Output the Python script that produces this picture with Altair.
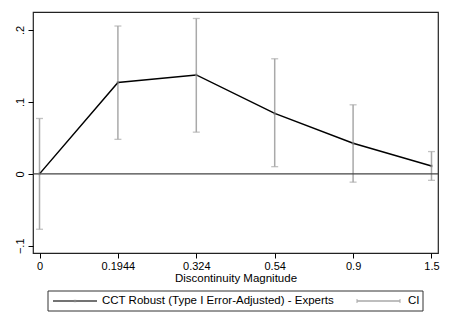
import altair as alt
import pandas as pd

magnitudes = ["0", "0.1944", "0.324", "0.54", "0.9", "1.5"]
estimates = [0.0, 0.127, 0.1375, 0.084, 0.0425, 0.011]
ci_low = [-0.077, 0.048, 0.058, 0.010, -0.0115, -0.009]
ci_high = [0.077, 0.2055, 0.216, 0.160, 0.096, 0.031]
y_ticks = [-0.1, 0.0, 0.1, 0.2]

df = pd.DataFrame({"m": magnitudes, "est": estimates, "lo": ci_low, "hi": ci_high})

W, H = 405, 241
FONT = "Liberation Sans"

xscale = alt.Scale(type="point", padding=0.083)
xenc = alt.X("m:N", sort=None, title="Discontinuity Magnitude", scale=xscale,
             axis=alt.Axis(labelAngle=0, domain=False, grid=False, tickSize=5,
                           tickColor="black", labelFont=FONT, labelFontSize=11,
                           labelColor="black", titleFont=FONT, titleFontSize=11.5,
                           titleFontWeight="normal", titleColor="black",
                           labelPadding=2, titlePadding=1))
yscale = alt.Scale(domain=[-0.11, 0.225], nice=False, zero=False)
yaxis = alt.Axis(values=y_ticks, grid=False, domain=False, tickSize=5, tickColor="black",
                 labelExpr="datum.value == 0 ? '0' : replace(format(datum.value, '.1f'), '0.', '.')",
                 labelAngle=-90, labelAlign="center", labelBaseline="bottom",
                 labelFont=FONT, labelFontSize=11, labelColor="black", labelPadding=3,
                 title=None)

base = alt.Chart(df)

ci_rule = base.mark_rule(color="#a9a9a9", strokeWidth=1.5).encode(
    x=xenc, y=alt.Y("lo:Q", scale=yscale, axis=yaxis), y2="hi:Q")
ci_lo_tick = base.mark_tick(color="#a9a9a9", size=7, thickness=1.3, orient="horizontal").encode(
    x=alt.X("m:N", sort=None, scale=xscale), y=alt.Y("lo:Q"))
ci_hi_tick = base.mark_tick(color="#a9a9a9", size=7, thickness=1.3, orient="horizontal").encode(
    x=alt.X("m:N", sort=None, scale=xscale), y=alt.Y("hi:Q"))

zero = alt.Chart(pd.DataFrame({"z": [0.0]})).mark_rule(color="#444444", strokeWidth=1.3).encode(
    y=alt.Y("z:Q", scale=yscale))

line = base.mark_line(color="black", strokeWidth=1.5).encode(
    x=alt.X("m:N", sort=None, scale=xscale), y=alt.Y("est:Q", scale=yscale))
pts = base.mark_point(shape="square", size=6, filled=True, color="#888888").encode(
    x=alt.X("m:N", sort=None, scale=xscale), y=alt.Y("est:Q", scale=yscale))

one = alt.Chart(pd.DataFrame({"a": [1]}))
leg_box = one.mark_rect(fill="white", stroke="#333333", strokeWidth=1).encode(
    x=alt.value(15), x2=alt.value(390), y=alt.value(279), y2=alt.value(299))
leg_line1 = one.mark_rule(color="#444444", strokeWidth=1.5).encode(
    x=alt.value(20), x2=alt.value(64), y=alt.value(289))
leg_pt1 = one.mark_point(shape="square", size=6, filled=True, color="#888888").encode(
    x=alt.value(42), y=alt.value(289))
leg_text1 = one.mark_text(align="left", baseline="middle", font=FONT, fontSize=11.5, color="black").encode(
    x=alt.value(69), y=alt.value(289), text=alt.value("CCT Robust (Type I Error-Adjusted) - Experts"))
leg_line2 = one.mark_rule(color="#a9a9a9", strokeWidth=1.3).encode(
    x=alt.value(324), x2=alt.value(367), y=alt.value(289))
leg_cap_a = one.mark_rule(color="#a9a9a9", strokeWidth=1).encode(
    x=alt.value(324), y=alt.value(287), y2=alt.value(291))
leg_cap_b = one.mark_rule(color="#a9a9a9", strokeWidth=1).encode(
    x=alt.value(367), y=alt.value(287), y2=alt.value(291))
leg_text2 = one.mark_text(align="left", baseline="middle", font=FONT, fontSize=11.5, color="black").encode(
    x=alt.value(375), y=alt.value(289), text=alt.value("CI"))

chart = alt.layer(
    ci_rule, ci_lo_tick, ci_hi_tick, zero, line, pts,
    leg_box, leg_line1, leg_pt1, leg_text1, leg_line2, leg_cap_a, leg_cap_b, leg_text2
).properties(
    width=W, height=H,
    autosize=alt.AutoSizeParams(type="none"),
    padding={"left": 25, "top": 4, "right": 4, "bottom": 66},
    background="white",
).configure_view(stroke="#222222", strokeWidth=1.2, fill="white")

chart.save("out.html", embed_options={"renderer": "svg", "actions": False})
